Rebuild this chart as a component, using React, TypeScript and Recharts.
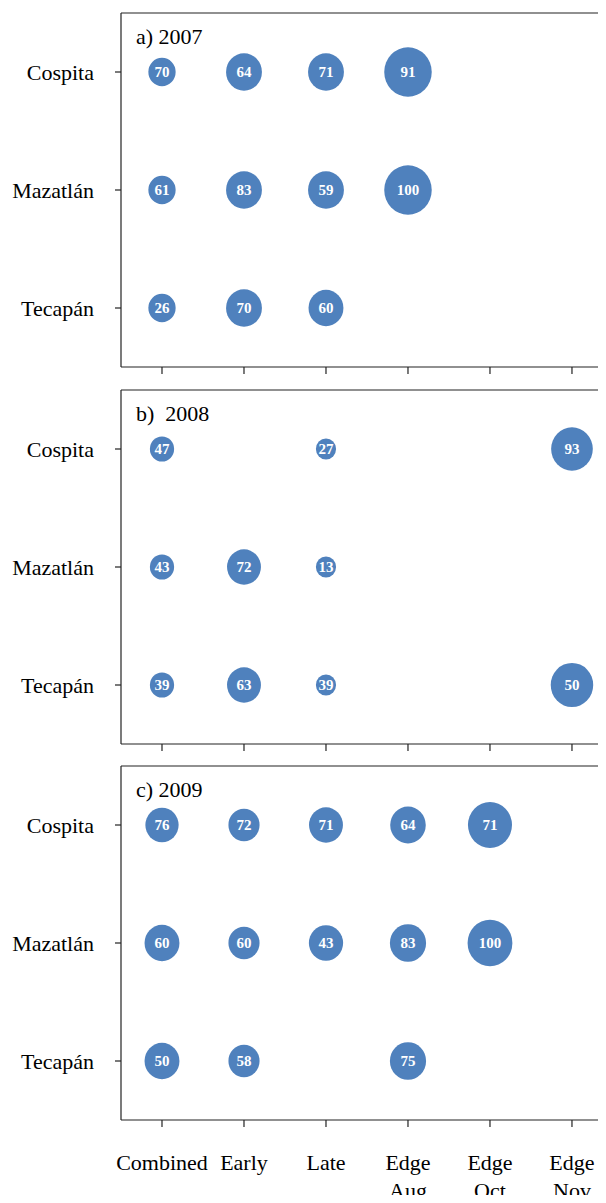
import React from "react";
import { ScatterChart, Scatter, XAxis, YAxis, ZAxis, ReferenceArea, ReferenceLine, Label } from "recharts";

// ---------- categories / tick labels ----------
const sites = ["Cospita", "Mazatlán", "Tecapán"];
const stages = ["Combined", "Early", "Late", "Edge Aug", "Edge Oct", "Edge Nov"];
const stageTickLabels = [["Combined"], ["Early"], ["Late"], ["Edge", "Aug"], ["Edge", "Oct"], ["Edge", "Nov"]];
const panelTitles = ["a) 2007", "b)\u00a0\u00a02008", "c) 2009"];

// ---------- 2007: percentage shown in bubble (null = no sample) ----------
const pct2007Cospita = [70, 64, 71, 91, null, null];
const pct2007Mazatlan = [61, 83, 59, 100, null, null];
const pct2007Tecapan = [26, 70, 60, null, null, null];
// relative sample size (bubble area)
const n2007Cospita = [33, 57, 57, 100, null, null];
const n2007Mazatlan = [33, 57, 57, 100, null, null];
const n2007Tecapan = [33, 57, 54, null, null, null];

// ---------- 2008 ----------
const pct2008Cospita = [47, null, 27, null, null, 93];
const pct2008Mazatlan = [43, 72, 13, null, null, null];
const pct2008Tecapan = [39, 63, 39, null, null, 50];
const n2008Cospita = [26, null, 18, null, null, 77];
const n2008Mazatlan = [26, 51, 18, null, null, null];
const n2008Tecapan = [26, 51, 18, null, null, 80];

// ---------- 2009 ----------
const pct2009Cospita = [76, 72, 71, 64, 71, null];
const pct2009Mazatlan = [60, 60, 43, 83, 100, null];
const pct2009Tecapan = [50, 58, null, 75, null, null];
const n2009Cospita = [49, 43, 51, 56, 86, null];
const n2009Mazatlan = [54, 43, 52, 58, 89, null];
const n2009Tecapan = [54, 43, null, 58, null, null];

type Pt = { stage: number; site: number; pct: number; n: number };

function buildPoints(pcts: (number | null)[][], ns: (number | null)[][]): Pt[] {
  const pts: Pt[] = [];
  pcts.forEach((row, s) =>
    row.forEach((v, c) => {
      if (v != null) pts.push({ stage: c + 1, site: s + 1, pct: v, n: ns[s][c] as number });
    })
  );
  return pts;
}

const data2007 = buildPoints([pct2007Cospita, pct2007Mazatlan, pct2007Tecapan], [n2007Cospita, n2007Mazatlan, n2007Tecapan]);
const data2008 = buildPoints([pct2008Cospita, pct2008Mazatlan, pct2008Tecapan], [n2008Cospita, n2008Mazatlan, n2008Tecapan]);
const data2009 = buildPoints([pct2009Cospita, pct2009Mazatlan, pct2009Tecapan], [n2009Cospita, n2009Mazatlan, n2009Tecapan]);

const FONT = "'Liberation Serif', 'Times New Roman', serif";
const LINE = "#222";
const BLUE = "#4F81BD";
const MAX_AREA = Math.PI * 23.75 * 23.75;
// the frame continues past the right edge of the page (as in the original figure)
const X_MAX = 6.415;

const Bubble = (props: any) => {
  const { cx, cy, width, size, payload } = props;
  const r = width ? width / 2 : Math.sqrt((size || 0) / Math.PI);
  return (
    <g>
      <ellipse cx={cx} cy={cy} rx={r} ry={r * 1.04} fill={BLUE} />
      <text x={cx} y={cy} dy="0.36em" textAnchor="middle" fill="#fff" fontWeight="bold" fontSize={15} fontFamily={FONT}>
        {payload.pct}
      </text>
    </g>
  );
};

const XTick = (props: any) => {
  const { x, y, payload } = props;
  const lines = stageTickLabels[payload.value - 1] || [stages[payload.value - 1]];
  return (
    <text x={x} y={y} textAnchor="middle" fontSize={22} fontFamily={FONT} fill="#000">
      {lines.map((l, i) => (
        <tspan key={i} x={x} dy={i === 0 ? 41 : 28}>
          {l}
        </tspan>
      ))}
    </text>
  );
};

const EmptyTick = () => <g />;

function Panel({ title, data, height, top, showLabels }: { title: string; data: Pt[]; height: number; top: number; showLabels: boolean }) {
  return (
    <ScatterChart width={598} height={height} margin={{ top, right: 0, bottom: 0, left: 0 }}>
      <XAxis
        type="number"
        dataKey="stage"
        domain={[0.5, X_MAX]}
        ticks={[1, 2, 3, 4, 5, 6]}
        allowDataOverflow
        interval={0}
        axisLine={{ stroke: LINE, strokeWidth: 1.2 }}
        tickLine={{ stroke: LINE, strokeWidth: 1.2 }}
        tickSize={7}
        tickMargin={2}
        height={showLabels ? 83 : 18}
        tick={showLabels ? <XTick /> : <EmptyTick />}
      />
      <YAxis
        type="number"
        dataKey="site"
        domain={[0.5, 3.5]}
        ticks={[1, 2, 3]}
        reversed
        allowDataOverflow
        interval={0}
        width={113}
        axisLine={{ stroke: LINE, strokeWidth: 1.2 }}
        tickLine={{ stroke: LINE, strokeWidth: 1.2 }}
        tickSize={6}
        tickMargin={21}
        tickFormatter={(v: number) => sites[v - 1]}
        tick={{ fontSize: 22, fill: "#000", fontFamily: FONT }}
      />
      <ZAxis type="number" dataKey="n" domain={[0, 100]} range={[0, MAX_AREA]} />
      <ReferenceLine y={0.5} stroke={LINE} strokeWidth={1.2} ifOverflow="visible" />
      <ReferenceArea x1={0.5} x2={X_MAX} y1={0.5} y2={3.5} fill="none" fillOpacity={0} stroke="none" ifOverflow="visible">
        <Label value={title} position="insideTopLeft" offset={15} fontSize={22} fill="#000" fontFamily={FONT} />
      </ReferenceArea>
      <Scatter data={data} shape={<Bubble />} isAnimationActive={false} />
    </ScatterChart>
  );
}

export default function App() {
  return (
    <div style={{ width: 598, height: 1195, marginBottom: -8 }}>
      <style>{"html{overflow:hidden}"}</style>
      <Panel title={panelTitles[0]} data={data2007} height={377} top={5} showLabels={false} />
      <Panel title={panelTitles[1]} data={data2008} height={377} top={5} showLabels={false} />
      <Panel title={panelTitles[2]} data={data2009} height={441} top={4} showLabels={true} />
    </div>
  );
}
